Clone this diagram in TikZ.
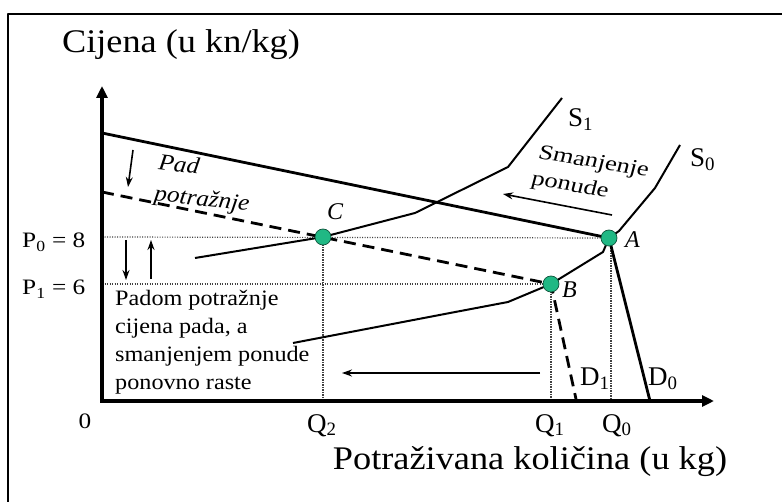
\documentclass[tikz,border=0pt]{standalone}
\usepackage{fontspec}
\setmainfont{Liberation Serif}
\usetikzlibrary{arrows.meta,positioning}
\definecolor{dotgreen}{RGB}{32,184,132}

\begin{document}
\begin{tikzpicture}[x=1pt, y=-1pt, line join=round,
			big/.style={font=\fontsize{33}{40}\selectfont, xscale=1.1, inner sep=0pt},
			lab/.style={font=\fontsize{27}{30}\selectfont, inner sep=0pt},
			plab/.style={font=\fontsize{22}{26}\selectfont, xscale=1.15, inner sep=0pt},
			note/.style={font=\fontsize{22}{28}\selectfont, xscale=1.1, inner sep=0pt, align=left},
			pnt/.style={circle, fill=dotgreen, draw=dotgreen!45!black, line width=0.7pt, minimum size=16pt, inner sep=0pt},
			guide/.style={black!75, line width=1.2pt, dash pattern=on 1.2pt off 1.3pt},
			curve/.style={line width=2pt},
			arr/.style={-{Stealth[length=10pt,width=7pt]}, line width=1.6pt}]
			\useasboundingbox (0,0) rectangle (782,502);
			\draw[line width=2pt] (8,502) -- (8,14) -- (782,14);

			% axes and points
			\coordinate (O) at (102,401);
			\coordinate (ytip) at (102,86);
			\coordinate (xtip) at (714,401);
			\coordinate (A) at (609,238);
			\coordinate (B) at (551,284);
			\coordinate (C) at (323,237);
			\coordinate (p0) at (102,237);
			\coordinate (p1) at (102,284);

			\draw[guide] (p0) -- (A);
			\draw[guide] (p1) -- (B);
			\draw[guide] (C) -- (C |- O);
			\draw[guide] (B) -- (B |- O);
			\draw[guide] (611,238) -- (611,401);

			\draw[line width=3.5pt, {Triangle[length=12pt,width=11pt]}-{Triangle[length=12pt,width=11pt]}, line join=miter]
				(ytip) -- (O) -- (xtip);

			% demand
			\draw[line width=2.8pt] (102,133) coordinate (d0t) -- (A) -- (650,401) coordinate (d0b);
			\draw[line width=2.8pt, dash pattern=on 12pt off 7pt] (102,192) coordinate (d1t) -- (B) -- (576,399) coordinate (d1b);

			% supply
			\draw[curve] (680,145) coordinate (s0t) -- (655,188) -- (619,231) -- (A) -- (603,252) -- (B)
				-- (508,302) -- (450,313) -- (293,343) coordinate (s0b);
			\draw[curve] (562,98) coordinate (s1t) -- (508,167) -- (415,213) -- (C) -- (195,258) coordinate (s1b);

			\node[pnt] at (A) {};
			\node[pnt] at (B) {};
			\node[pnt] at (C) {};

			% arrows
			\coordinate (pa1) at (133,150); \coordinate (pa2) at (128,187);
			\coordinate (dn1) at (126,240); \coordinate (dn2) at (126,280);
			\coordinate (up1) at (151,279); \coordinate (up2) at (151,240);
			\coordinate (sm1) at (612,215); \coordinate (sm2) at (503,194);
			\coordinate (bt1) at (540,373); \coordinate (bt2) at (342,373);
			\draw[arr] (pa1) -- (pa2);
			\draw[arr] (dn1) -- (dn2);
			\draw[arr] (up1) -- (up2);
			\draw[arr] (sm1) -- (sm2);
			\draw[arr] (bt1) -- (bt2);

			% labels
			\node[big, anchor=base] (ylab) at (181,53) {Cijena (u kn/kg)};
			\node[big, anchor=base] (xlab) at (530,470) {Potraživana količina (u kg)};
			\node[plab, anchor=base west] (lp0) at (22,248) {P\textsubscript{0} = 8};
			\node[plab, anchor=base west] (lp1) at (22,295) {P\textsubscript{1} = 6};
			\node[plab, anchor=base] (zero) at (85,429) {0};
			\node[lab, anchor=base west] (lq2) at (307,432) {Q\textsubscript{2}};
			\node[lab, anchor=base west] (lq1) at (535,432) {Q\textsubscript{1}};
			\node[lab, anchor=base west] (lq0) at (602,432) {Q\textsubscript{0}};
			\node[lab, anchor=base west] (ld1) at (580,386) {D\textsubscript{1}};
			\node[lab, anchor=base west] (ld0) at (648,386) {D\textsubscript{0}};
			\node[lab, anchor=base west] (ls1) at (568,127) {S\textsubscript{1}};
			\node[lab, anchor=base west] (ls0) at (690,167) {S\textsubscript{0}};
			\node[plab, xscale=0.87, anchor=base west, font=\fontsize{24}{28}\selectfont\itshape] (la) at (625,248) {A};
			\node[plab, xscale=0.87, anchor=base west, font=\fontsize{24}{28}\selectfont\itshape] (lb) at (562,298) {B};
			\node[plab, xscale=0.87, anchor=base west, font=\fontsize{24}{28}\selectfont\itshape] (lc) at (327,220) {C};
			\node[note, font=\fontsize{23}{31}\selectfont\itshape, xscale=1, rotate=-7] (pad) at (204,185) {Pad\\potražnje};
			\node[note, font=\fontsize{21}{27}\selectfont, xscale=1.15, rotate=-12] (sman) at (590,176) {Smanjenje\\ponude};
			\node[note, anchor=north west] (txt) at (115,290) {Padom potražnje\\cijena pada, a\\smanjenjem ponude\\ponovno raste};
		\end{tikzpicture}
\end{document}
